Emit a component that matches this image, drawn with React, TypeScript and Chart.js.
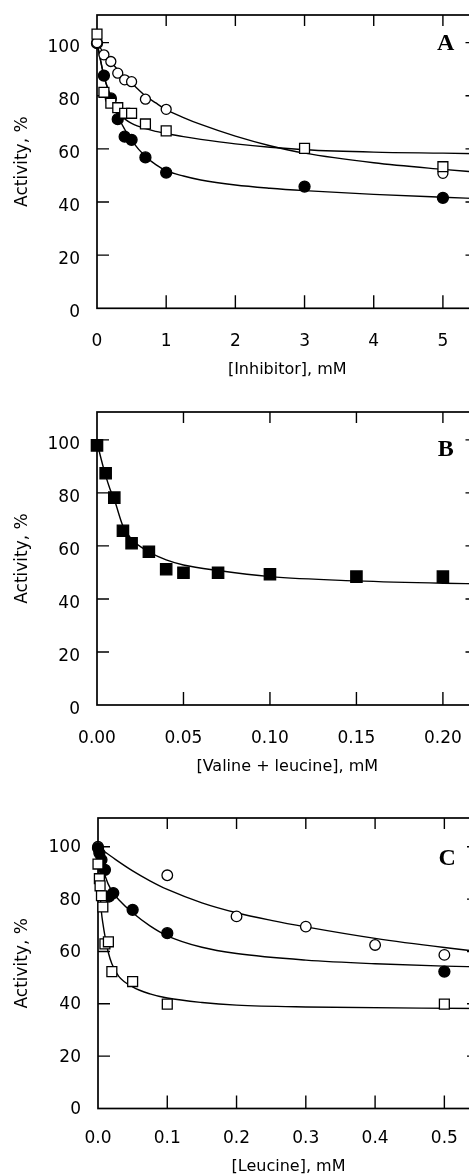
import React, { useEffect, useRef } from 'react';
import { Chart, registerables } from 'chart.js';

Chart.register(...registerables);

// ---------- Panel A: [Inhibitor], mM ----------
const aTicksX = [0, 1, 2, 3, 4, 5];
const aTickLabelsX = ['0', '1', '2', '3', '4', '5'];
const aFilledX = [0, 0.1, 0.2, 0.3, 0.4, 0.5, 0.7, 1, 3, 5];
const aFilledY = [99.8, 87.6, 79, 71.2, 64.6, 63.4, 56.8, 51.1, 45.8, 41.6];
const aOpenCircleX = [0, 0.1, 0.2, 0.3, 0.4, 0.5, 0.7, 1, 5];
const aOpenCircleY = [100, 95.4, 92.9, 88.5, 86.0, 85.3, 78.7, 74.9, 50.8];
const aSquareX = [0, 0.1, 0.2, 0.3, 0.4, 0.5, 0.7, 1, 3, 5];
const aSquareY = [103.2, 81.3, 77.2, 75.5, 73.4, 73.4, 69.4, 66.8, 60.2, 53.3];
const aCurveX = [0, 0.1, 0.2, 0.3, 0.4, 0.5, 0.7, 0.85, 1, 1.25, 1.5, 2, 2.5, 3, 4, 5, 5.5];
const aCurveOpenCircle = [100, 96, 92.8, 89.8, 87.2, 84.8, 80, 77.3, 74.8, 71.8, 69.2, 64.8, 61.2, 58.4, 54.8, 52.3, 51.2];
const aCurveFilled = [100, 87.5, 79.5, 72.5, 67.4, 63.2, 57.1, 54.1, 51.8, 49.8, 48.3, 46.4, 45.2, 44.3, 42.9, 41.8, 41.3];
const aCurveSquare = [100, 87.5, 79.5, 73.8, 71.3, 69.6, 67.6, 66.6, 65.8, 64.6, 63.6, 61.9, 60.6, 59.7, 58.8, 58.4, 58.2];

// ---------- Panel B: [Valine + leucine], mM ----------
const bTicksX = [0, 0.05, 0.1, 0.15, 0.2];
const bTickLabelsX = ['0.00', '0.05', '0.10', '0.15', '0.20'];
const bSquareX = [0, 0.005, 0.01, 0.015, 0.02, 0.03, 0.04, 0.05, 0.07, 0.1, 0.15, 0.2];
const bSquareY = [97.9, 87.4, 78.2, 65.7, 61.0, 57.8, 51.2, 49.9, 49.9, 49.3, 48.4, 48.4];
const bCurveX = [0, 0.0025, 0.005, 0.0075, 0.01, 0.015, 0.02, 0.03, 0.04, 0.05, 0.07, 0.1, 0.15, 0.2, 0.22];
const bCurveY = [99, 92.5, 86.5, 81.5, 77.5, 67.5, 62.5, 57.8, 54.7, 52.8, 50.7, 48.4, 46.8, 45.9, 45.7];

// ---------- Panel C: [Leucine], mM ----------
const cTicksX = [0, 0.1, 0.2, 0.3, 0.4, 0.5];
const cTickLabelsX = ['0.0', '0.1', '0.2', '0.3', '0.4', '0.5'];
const cOpenCircleX = [0, 0.1, 0.2, 0.3, 0.4, 0.5];
const cOpenCircleY = [100, 89.1, 73.4, 69.5, 62.5, 58.7];
const cFilledX = [0, 0.002, 0.005, 0.01, 0.016, 0.022, 0.05, 0.1, 0.5];
const cFilledY = [99.5, 97.6, 95, 91.2, 81, 82.3, 75.9, 67.0, 52.3];
const cSquareX = [0, 0.002, 0.003, 0.005, 0.007, 0.01, 0.015, 0.02, 0.05, 0.1, 0.5];
const cSquareY = [93.4, 87.8, 85.1, 81.3, 77, 62.9, 63.7, 52.3, 48.5, 39.9, 39.9];
const cCurveOpenX = [0, 0.025, 0.05, 0.075, 0.1, 0.15, 0.2, 0.25, 0.3, 0.4, 0.5, 0.55];
const cCurveOpenY = [100, 95.2, 90.8, 87.0, 83.7, 78.6, 74.8, 71.9, 69.4, 65.0, 61.5, 60.0];
const cCurveFilledX = [0, 0.005, 0.01, 0.02, 0.03, 0.05, 0.075, 0.1, 0.15, 0.2, 0.3, 0.4, 0.5, 0.55];
const cCurveFilledY = [100, 94.5, 89, 83, 79.8, 74.8, 69.8, 66, 61.6, 59.2, 56.7, 55.3, 54.4, 54.1];
const cCurveSquareX = [0, 0.0025, 0.005, 0.0075, 0.01, 0.015, 0.02, 0.03, 0.05, 0.075, 0.1, 0.15, 0.2, 0.3, 0.55];
const cCurveSquareY = [97, 85, 75, 70, 66, 59.5, 55.3, 50.5, 46.5, 43.8, 42.2, 40.5, 39.5, 38.8, 38.2];

const yTicks = [0, 20, 40, 60, 80, 100];
const yTitle = 'Activity, %';

type Pt = { x: number; y: number };
const zip = (xs: number[], ys: number[]): Pt[] => xs.map((x, i) => ({ x, y: ys[i] }));

const SANS = "'DejaVu Sans', sans-serif";
const SERIF = "'Liberation Serif', 'Times New Roman', serif";

const marker = (data: Pt[], style: 'circle' | 'rect', filled: boolean, radius: number) => ({
  data,
  showLine: false,
  pointStyle: style,
  pointRadius: radius,
  pointHoverRadius: radius,
  pointBackgroundColor: filled ? '#000' : '#fff',
  pointBorderColor: '#000',
  pointBorderWidth: 1.3,
  clip: false,
});

const curve = (data: Pt[]) => ({
  data,
  showLine: true,
  borderColor: '#000',
  borderWidth: 1.4,
  pointRadius: 0,
  pointHoverRadius: 0,
  cubicInterpolationMode: 'monotone',
  fill: false,
  clip: false,
});

const framePlugin = {
  id: 'frame',
  beforeDatasetsDraw(chart: any) {
    const { ctx, chartArea, scales } = chart;
    const { left, right, top, bottom } = chartArea;
    const x = scales.x;
    const y = scales.y;
    ctx.save();
    ctx.strokeStyle = '#000';
    ctx.lineWidth = 1.7;
    ctx.strokeRect(left, top, right - left, bottom - top);
    ctx.lineWidth = 1.4;
    ctx.beginPath();
    x.ticks.forEach((t: any) => {
      if (t.value <= x.min) return;
      const px = x.getPixelForValue(t.value);
      ctx.moveTo(px, bottom);
      ctx.lineTo(px, bottom - 13);
      ctx.moveTo(px, top);
      ctx.lineTo(px, top + 11);
    });
    y.ticks.forEach((t: any) => {
      if (t.value <= y.min) return;
      const py = y.getPixelForValue(t.value);
      ctx.moveTo(left, py);
      ctx.lineTo(left + 12, py);
      ctx.moveTo(right, py);
      ctx.lineTo(right - 12, py);
    });
    ctx.stroke();
    ctx.restore();
  },
  afterDatasetsDraw(chart: any, _args: any, opts: any) {
    if (!opts || !opts.letter) return;
    const { ctx, scales } = chart;
    ctx.save();
    ctx.fillStyle = '#000';
    ctx.font = `bold 24px ${SERIF}`;
    ctx.textAlign = 'center';
    ctx.textBaseline = 'middle';
    ctx.fillText(opts.letter, scales.x.getPixelForValue(opts.lx), scales.y.getPixelForValue(opts.ly));
    ctx.restore();
  },
};

interface PanelSpec {
  canvasTop: number;
  canvasH: number;
  axisH: number;
  yAxisW: number;
  plotRight: number;
  xMax: number;
  yMax: number;
  xTicks: number[];
  xTickLabels: string[];
  xTitle: string;
  letter: string;
  letterAt: [number, number];
  xLabelPad: number;
  yLabelOffset: number;
  datasets: any[];
}

const CANVAS_W = 490;

const panels: PanelSpec[] = [
  {
    canvasTop: 0,
    canvasH: 379,
    axisH: 379 - 15 - 293.3,
    yAxisW: 97,
    plotRight: 477.5,
    xMax: 5.5,
    yMax: 110.4,
    xTicks: aTicksX,
    xTickLabels: aTickLabelsX,
    xTitle: '[Inhibitor], mM',
    letter: 'A',
    letterAt: [5.04, 99.5],
    xLabelPad: 23,
    yLabelOffset: 4.5,
    datasets: [
      marker(zip(aSquareX, aSquareY), 'rect', false, 7),
      marker(zip(aOpenCircleX, aOpenCircleY), 'circle', false, 5),
      marker(zip(aFilledX, aFilledY), 'circle', true, 5.5),
      curve(zip(aCurveX, aCurveOpenCircle)),
      curve(zip(aCurveX, aCurveFilled)),
      curve(zip(aCurveX, aCurveSquare)),
    ],
  },
  {
    canvasTop: 397,
    canvasH: 379,
    axisH: 71,
    yAxisW: 97,
    plotRight: 477.5,
    xMax: 0.22,
    yMax: 110.5,
    xTicks: bTicksX,
    xTickLabels: bTickLabelsX,
    xTitle: '[Valine + leucine], mM',
    letter: 'B',
    letterAt: [0.2017, 96.2],
    xLabelPad: 23,
    yLabelOffset: 5,
    datasets: [
      marker(zip(bSquareX, bSquareY), 'rect', true, 8),
      curve(zip(bCurveX, bCurveY)),
    ],
  },
  {
    canvasTop: 803,
    canvasH: 373,
    axisH: 373 - 15 - 290.5,
    yAxisW: 98,
    plotRight: 479,
    xMax: 0.55,
    yMax: 111,
    xTicks: cTicksX,
    xTickLabels: cTickLabelsX,
    xTitle: '[Leucine], mM',
    letter: 'C',
    letterAt: [0.504, 95.5],
    xLabelPad: 19.5,
    yLabelOffset: 1,
    datasets: [
      marker(zip(cSquareX, cSquareY), 'rect', false, 7),
      marker(zip(cFilledX, cFilledY), 'circle', true, 5.5),
      marker(zip(cOpenCircleX, cOpenCircleY), 'circle', false, 5.3),
      curve(zip(cCurveOpenX, cCurveOpenY)),
      curve(zip(cCurveFilledX, cCurveFilledY)),
      curve(zip(cCurveSquareX, cCurveSquareY)),
    ],
  },
];

function Panel({ spec }: { spec: PanelSpec }) {
  const ref = useRef<HTMLCanvasElement | null>(null);

  useEffect(() => {
    if (!ref.current) return;
    const s = spec;
    const chart = new Chart(ref.current, {
      type: 'scatter',
      data: { datasets: s.datasets as any },
      plugins: [framePlugin as any],
      options: {
        responsive: false,
        animation: false,
        devicePixelRatio: 1,
        events: [],
        layout: { padding: { left: 0, top: 15, right: CANVAS_W - s.plotRight, bottom: 0 } },
        plugins: {
          legend: { display: false },
          tooltip: { enabled: false },
          frame: { letter: s.letter, lx: s.letterAt[0], ly: s.letterAt[1] },
        } as any,
        scales: {
          x: {
            type: 'linear',
            min: 0,
            max: s.xMax,
            grid: { display: false, drawTicks: false },
            border: { display: false },
            afterBuildTicks: (scale: any) => {
              scale.ticks = s.xTicks.map((v) => ({ value: v }));
            },
            afterFit: (scale: any) => {
              scale.height = s.axisH;
              scale.paddingLeft = 0;
              scale.paddingRight = 0;
            },
            ticks: {
              autoSkip: false,
              maxRotation: 0,
              minRotation: 0,
              padding: s.xLabelPad,
              color: '#000',
              font: { family: SANS, size: 17 },
              callback: (value: any) => {
                const i = s.xTicks.indexOf(Number(value));
                return i >= 0 ? s.xTickLabels[i] : '';
              },
            },
            title: {
              display: true,
              text: s.xTitle,
              color: '#000',
              font: { family: SANS, size: 16 },
              padding: { top: 0, bottom: 0 },
            },
          },
          y: {
            type: 'linear',
            min: 0,
            max: s.yMax,
            grid: { display: false, drawTicks: false },
            border: { display: false },
            afterBuildTicks: (scale: any) => {
              scale.ticks = yTicks.map((v) => ({ value: v }));
            },
            afterFit: (scale: any) => {
              scale.width = s.yAxisW;
              scale.paddingTop = 0;
              scale.paddingBottom = 0;
            },
            ticks: {
              autoSkip: false,
              padding: 17,
              labelOffset: s.yLabelOffset,
              color: '#000',
              font: { family: SANS, size: 17 },
              callback: (value: any) => String(value),
            },
            title: {
              display: true,
              text: yTitle,
              color: '#000',
              font: { family: SANS, size: 17 },
              padding: { top: 12, bottom: 0 },
            },
          },
        },
      } as any,
    });
    return () => chart.destroy();
  }, [spec]);

  return (
    <canvas
      ref={ref}
      width={CANVAS_W}
      height={spec.canvasH}
      style={{
        position: 'absolute',
        left: 0,
        top: spec.canvasTop,
        width: CANVAS_W,
        height: spec.canvasH,
        display: 'block',
      }}
    />
  );
}

export default function App() {
  return (
    <div
      style={{
        position: 'absolute',
        left: 0,
        top: 0,
        width: 469,
        height: 1176,
        overflow: 'hidden',
        background: '#fff',
      }}
    >
      {panels.map((p, i) => (
        <Panel key={i} spec={p} />
      ))}
    </div>
  );
}
